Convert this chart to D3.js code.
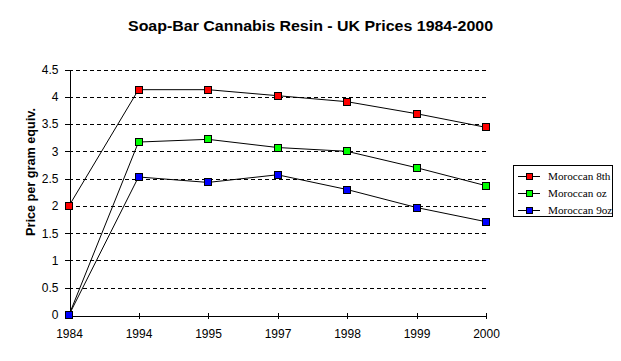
<!DOCTYPE html>
<html><head><meta charset="utf-8">
<script src="https://cdn.jsdelivr.net/npm/d3@7"></script>
<style>body{margin:0;background:#fff}svg{display:block}</style>
</head><body>
<svg id="c" width="621" height="361"></svg>
<script>
const categories = ["1984","1994","1995","1997","1998","1999","2000"];
const seriesNames = ["Moroccan 8th","Moroccan oz","Moroccan 9oz"];
const seriesColors = ["#ff0000","#00ff00","#0000ff"];
const moroccan8th = [2.0, 4.13, 4.13, 4.02, 3.91, 3.69, 3.44];
const moroccanOz  = [0, 3.17, 3.22, 3.07, 3.0, 2.70, 2.37];
const moroccan9oz = [0, 2.53, 2.43, 2.57, 2.30, 1.97, 1.71];
const yTicks = [0,0.5,1,1.5,2,2.5,3,3.5,4,4.5];
const title = "Soap-Bar Cannabis Resin - UK Prices 1984-2000";
const yLabel = "Price per gram equiv.";

const series = [moroccan8th, moroccanOz, moroccan9oz];
const svg = d3.select("#c");
const x = d3.scalePoint().domain(categories).range([69, 486]);
const y = d3.scaleLinear().domain([0, 4.5]).range([315, 69.5]);

// gridlines
svg.append("g").selectAll("line").data(yTicks.filter(d => d > 0)).join("line")
  .attr("x1", 69).attr("x2", 486)
  .attr("y1", d => Math.round(y(d)) + 0.5).attr("y2", d => Math.round(y(d)) + 0.5)
  .attr("stroke", "#000").attr("stroke-dasharray", "4,3").attr("shape-rendering","crispEdges");

// axes
const yAxis = d3.axisLeft(y).tickValues(yTicks).tickFormat(d => String(d)).tickSize(5).tickPadding(6);
const gy = svg.append("g").attr("transform", "translate(69.5,0)").call(yAxis);
gy.select(".domain").attr("shape-rendering","crispEdges");
gy.selectAll(".tick line").attr("shape-rendering","crispEdges");
gy.selectAll("text").style("font-family","Arial, 'Liberation Sans', sans-serif").style("font-size","12px").attr("fill","#000");

const xAxis = d3.axisBottom(x).tickSizeInner(3).tickSizeOuter(0).tickPadding(11);
const gx = svg.append("g").attr("transform", "translate(0,315.5)").call(xAxis);
gx.select(".domain").attr("shape-rendering","crispEdges");
gx.selectAll(".tick line").attr("y1", -3).attr("shape-rendering","crispEdges");
gx.selectAll("text").style("font-family","Arial, 'Liberation Sans', sans-serif").style("font-size","12px").attr("fill","#000");

// lines & markers
const line = d3.line().x((d, i) => x(categories[i])).y(d => y(d));
series.forEach((s, k) => {
  svg.append("path").datum(s).attr("d", line).attr("fill","none").attr("stroke","#000").attr("stroke-width",1);
});
series.forEach((s, k) => {
  svg.append("g").selectAll("rect").data(s).join("rect")
    .attr("x", (d, i) => Math.round(x(categories[i])) - 3.5)
    .attr("y", d => Math.round(y(d)) - 3.5)
    .attr("width", 7).attr("height", 7)
    .attr("fill", seriesColors[k]).attr("stroke","#000").attr("stroke-width",1);
});

// title
svg.append("text").attr("x", 128).attr("y", 31)
  .attr("textLength", 365).attr("lengthAdjust", "spacingAndGlyphs")
  .style("font-family","Arial, 'Liberation Sans', sans-serif").style("font-size","14px").style("font-weight","bold")
  .text(title);

// y label
svg.append("text").attr("transform","translate(35,172) rotate(-90)").attr("text-anchor","middle")
  .attr("textLength", 128).attr("lengthAdjust", "spacingAndGlyphs")
  .style("font-family","Arial, 'Liberation Sans', sans-serif").style("font-size","12.5px").style("font-weight","bold")
  .text(yLabel);

// legend
const lg = svg.append("g");
lg.append("rect").attr("x", 513.5).attr("y", 165.5).attr("width", 99).attr("height", 51)
  .attr("fill","#fff").attr("stroke","#000");
seriesNames.forEach((n, k) => {
  const cy = 176 + k * 16.8;
  const ry = Math.round(cy) + 0.5;
  lg.append("line").attr("x1", 518).attr("x2", 540).attr("y1", ry).attr("y2", ry).attr("stroke","#000");
  lg.append("rect").attr("x", 526.5).attr("y", Math.round(cy) - 2.5).attr("width", 6).attr("height", 6)
    .attr("fill", seriesColors[k]).attr("stroke","#000");
  lg.append("text").attr("x", 548).attr("y", cy + 4)
    .style("font-family","'Liberation Serif', 'Times New Roman', serif").style("font-size","11.2px")
    .text(n);
});
</script>
</body></html>
